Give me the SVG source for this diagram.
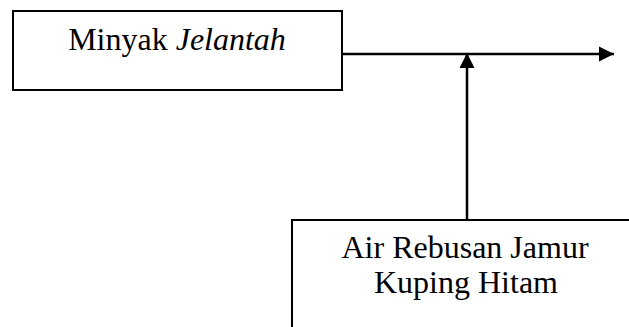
<svg xmlns="http://www.w3.org/2000/svg" width="629" height="327" viewBox="0 0 629 327">
  <style>
    .box { fill: #fff; stroke: #000; stroke-width: 2; }
    .line { fill: none; stroke: #000; stroke-width: 2.5; }
    .lbl { font-family: "Liberation Serif", "Times New Roman", serif; font-size: 32px; fill: #000; text-anchor: middle; }
  </style>
  <defs>
    <marker id="arrow" viewBox="0 0 10 10" refX="10" refY="5" markerWidth="6" markerHeight="6.4" markerUnits="strokeWidth" orient="auto">
      <path d="M0,0 L10,5 L0,10 Z" fill="#000"/>
    </marker>
  </defs>
  <rect width="629" height="327" fill="#fff"/>
  <g id="connectors">
    <line class="line" x1="342" y1="54" x2="614" y2="54" marker-end="url(#arrow)"/>
    <line class="line" x1="467" y1="220" x2="467" y2="53" marker-end="url(#arrow)"/>
  </g>
  <g id="minyak-jelantah">
    <rect class="box" x="13" y="11" width="329" height="79"/>
    <text class="lbl" x="177" y="50">Minyak <tspan font-style="italic">Jelantah</tspan></text>
  </g>
  <g id="air-rebusan">
    <rect class="box" x="292" y="220" width="360" height="130"/>
    <text class="lbl" x="465" y="258">Air Rebusan Jamur</text>
    <text class="lbl" x="466" y="293">Kuping Hitam</text>
  </g>
</svg>
